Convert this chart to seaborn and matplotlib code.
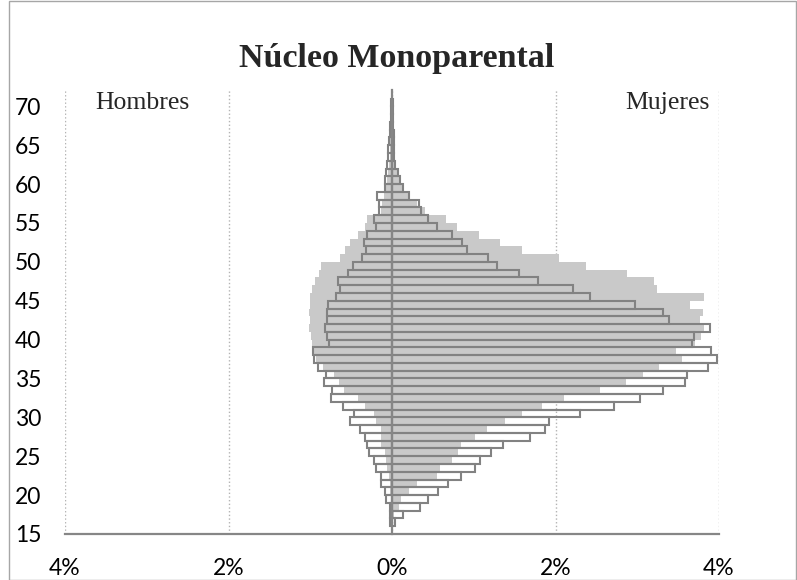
import numpy as np
import pandas as pd
import matplotlib
matplotlib.use("Agg")
import matplotlib.pyplot as plt
from matplotlib.patches import Rectangle
import seaborn as sns

# edades (cada barra cubre [edad, edad+1])
edades = list(range(16, 71))

# % de la poblacion, barras con contorno
hombres = [-0.02, -0.02, -0.03, -0.07, -0.09, -0.13, -0.13, -0.19, -0.22, -0.28,
           -0.30, -0.33, -0.39, -0.51, -0.46, -0.60, -0.75, -0.73, -0.83, -0.81,
           -0.90, -0.96, -0.97, -0.77, -0.80, -0.82, -0.80, -0.80, -0.78, -0.69,
           -0.64, -0.66, -0.54, -0.48, -0.37, -0.32, -0.34, -0.31, -0.19, -0.22,
           -0.155, -0.155, -0.18, -0.09, -0.09, -0.07, -0.06, -0.05, -0.05, -0.04,
           -0.03, -0.02, -0.01, -0.01, -0.01]
mujeres = [0.04, 0.14, 0.34, 0.44, 0.56, 0.68, 0.84, 1.02, 1.08, 1.21,
           1.36, 1.69, 1.87, 1.92, 2.30, 2.71, 3.03, 3.32, 3.58, 3.61,
           3.87, 3.98, 3.90, 3.67, 3.69, 3.89, 3.39, 3.31, 2.97, 2.42,
           2.21, 1.79, 1.55, 1.29, 1.17, 0.92, 0.86, 0.73, 0.55, 0.44,
           0.35, 0.33, 0.21, 0.14, 0.10, 0.07, 0.04, 0.03, 0.02, 0.02,
           0.02, 0.01, 0.01, 0.01, 0.01]

# % de referencia, barras grises de fondo
hombres_ref = [-0.01, -0.01, -0.01, -0.01, -0.02, -0.03, -0.04, -0.06, -0.07, -0.08,
               -0.13, -0.14, -0.14, -0.20, -0.22, -0.33, -0.41, -0.59, -0.65, -0.71,
               -0.85, -0.93, -0.96, -0.98, -0.99, -1.01, -1.00, -1.02, -1.00, -1.00,
               -0.98, -0.94, -0.89, -0.87, -0.64, -0.58, -0.51, -0.41, -0.33, -0.30,
               -0.14, -0.12, -0.10, -0.07, -0.06, -0.05, -0.04, -0.03, -0.02, -0.02,
               -0.01, -0.01, -0.01, -0.005, -0.005]
mujeres_ref = [0.01, 0.03, 0.09, 0.11, 0.21, 0.30, 0.55, 0.59, 0.73, 0.81,
               0.85, 1.02, 1.16, 1.38, 1.59, 1.83, 2.10, 2.54, 2.86, 3.07,
               3.26, 3.55, 3.47, 3.71, 3.78, 3.82, 3.77, 3.80, 3.64, 3.82,
               3.24, 3.20, 2.88, 2.37, 2.04, 1.59, 1.32, 1.06, 0.79, 0.66,
               0.40, 0.30, 0.20, 0.13, 0.10, 0.07, 0.05, 0.04, 0.03, 0.02,
               0.02, 0.01, 0.01, 0.01, 0.01]

yticks = list(range(15, 71, 5))
xticks = [-4, -2, 0, 2, 4]
xtick_labels = ['4%', '2%', '0%', '2%', '4%']

df = pd.DataFrame({'edad': edades, 'H': hombres, 'M': mujeres,
                   'H_ref': hombres_ref, 'M_ref': mujeres_ref})
df['pos'] = df['edad'] + 0.5

sns.set_style('white')
plt.rcParams['font.family'] = ['Lato', 'DejaVu Sans']

fig = plt.figure(figsize=(7.97, 5.80), dpi=100)
ax = fig.add_axes([65 / 797, 1 - 534 / 580, 654 / 797, 444 / 580])

gris = '#c9c9c9'
borde = '#828282'
for col in ['H_ref', 'M_ref']:
    sns.barplot(data=df, x=col, y='pos', orient='y', native_scale=True, width=1,
                color=gris, saturation=1, linewidth=0, errorbar=None, ax=ax)
for col in ['H', 'M']:
    sns.barplot(data=df, x=col, y='pos', orient='y', native_scale=True, width=1,
                color=borde, saturation=1, fill=False, linewidth=1.5,
                errorbar=None, ax=ax)

ax.set_xlim(-4, 4)
ax.set_ylim(15, 72.1)
ax.set_xlabel('')
ax.set_ylabel('')
ax.set_xticks(xticks)
ax.set_xticklabels(xtick_labels)
ax.set_yticks(yticks)
ax.set_yticklabels([str(v) for v in yticks])

ax.xaxis.grid(True, linestyle=':', color='#b3b3b3', linewidth=1)
ax.yaxis.grid(False)
ax.set_axisbelow(True)

for s in ['top', 'right']:
    ax.spines[s].set_visible(False)
ax.spines['left'].set_position(('data', 0))
for s in ['left', 'bottom']:
    ax.spines[s].set_color('#868686')
    ax.spines[s].set_linewidth(1.6)
    ax.spines[s].set_zorder(5)

ax.tick_params(axis='y', direction='out', length=6.3, width=1, color='#868686',
               pad=246, labelsize=16.5, labelcolor='black')
ax.tick_params(axis='x', direction='out', length=6.5, width=1, color='#868686',
               pad=10.5, labelsize=16.5, labelcolor='black')

ax.text(-3.63, 70.4, 'Hombres', fontsize=18.5, family='Liberation Serif',
        ha='left', va='center')
ax.text(2.85, 70.4, 'Mujeres', fontsize=18.5, family='Liberation Serif',
        ha='left', va='center')

fig.text(397 / 797, 1 - 58 / 580, 'Núcleo Monoparental', fontsize=24.5,
         fontweight='bold', family='Liberation Serif', ha='center', va='center')

fig.add_artist(Rectangle((9 / 797, 0.5 / 580), 786.5 / 797, 579 / 580,
                         transform=fig.transFigure, fill=False,
                         edgecolor='#a6a6a6', linewidth=1))

fig.savefig('out.png', dpi=100)
